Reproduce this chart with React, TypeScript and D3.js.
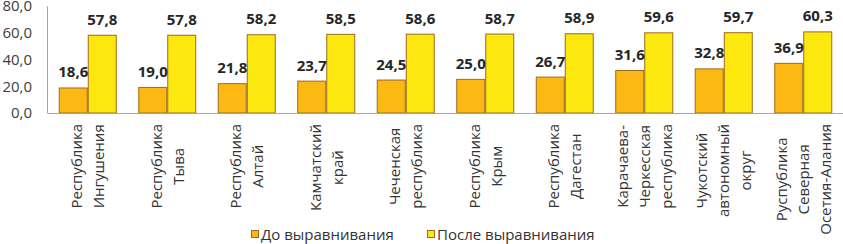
import React, { useEffect, useRef } from "react";
import * as d3 from "d3";

const categories: string[][] = [
  ["Республика", "Ингушения"],
  ["Республика", "Тыва"],
  ["Республика", "Алтай"],
  ["Камчатский", "край"],
  ["Чеченская", "республика"],
  ["Республика", "Крым"],
  ["Республика", "Дагестан"],
  ["Карачаева-", "Черкесская", "республика"],
  ["Чукотский", "автономный", "округ"],
  ["Руспублика", "Северная", "Осетия-Алания"],
];
const beforeValues = [18.6, 19.0, 21.8, 23.7, 24.5, 25.0, 26.7, 31.6, 32.8, 36.9];
const afterValues = [57.8, 57.8, 58.2, 58.5, 58.6, 58.7, 58.9, 59.6, 59.7, 60.3];
const yTicks = [0, 20, 40, 60, 80];
const seriesNames = ["До выравнивания", "После выравнивания"];

const W = 843;
const H = 244;
const FONT = "'Open Sans', 'DejaVu Sans', sans-serif";
const fmt = (v: number) => v.toFixed(1).replace(".", ",");

export default function App() {
  const ref = useRef<SVGSVGElement | null>(null);

  useEffect(() => {
    document.body.style.margin = "0";
    const svg = d3.select(ref.current!);
    svg.selectAll("*").remove();

    const x = d3
      .scaleBand<number>()
      .domain(d3.range(categories.length))
      .range([48, 843])
      .padding(0);
    const y = d3.scaleLinear().domain([0, 80]).range([113, 5.4]);
    const barW = 29;
    const colors = ["#FDB913", "#FCE80E"];
    const stroke = "#9C6A1E";
    const series = [beforeValues, afterValues];

    // y axis labels
    svg
      .append("g")
      .selectAll("text")
      .data(yTicks)
      .join("text")
      .attr("x", 32)
      .attr("y", (d) => y(d))
      .attr("dy", "0.36em")
      .attr("text-anchor", "end")
      .attr("font-family", FONT)
      .attr("font-size", 15)
      .attr("fill", "#404040")
      .text((d) => fmt(d));

    // bars
    series.forEach((vals, si) => {
      svg
        .append("g")
        .selectAll("rect")
        .data(vals)
        .join("rect")
        .attr("x", (_, i) => x(i)! + x.bandwidth() / 2 - barW + si * barW + 0.5)
        .attr("y", (d) => y(d))
        .attr("width", barW - 1)
        .attr("height", (d) => y(0) - y(d))
        .attr("fill", colors[si])
        .attr("stroke", stroke)
        .attr("stroke-width", 1);
    });

    // axes lines
    svg
      .append("line")
      .attr("x1", 47.5)
      .attr("x2", 47.5)
      .attr("y1", y(80) + 1)
      .attr("y2", y(0))
      .attr("stroke", "#A6A6A6");
    svg
      .append("line")
      .attr("x1", 47.5)
      .attr("x2", 843)
      .attr("y1", y(0) + 0.5)
      .attr("y2", y(0) + 0.5)
      .attr("stroke", "#A6A6A6");

    // data labels
    series.forEach((vals, si) => {
      svg
        .append("g")
        .selectAll("text")
        .data(vals)
        .join("text")
        .attr("x", (_, i) => x(i)! + x.bandwidth() / 2 - barW / 2 + si * barW)
        .attr("y", (d) => y(d) - 10.5)
        .attr("text-anchor", "middle")
        .attr("font-family", FONT)
        .attr("font-weight", "bold")
        .attr("font-size", 15)
        .attr("fill", "#262626")
        .text((d) => fmt(d));
    });

    // category labels
    const lineGap = 22;
    categories.forEach((lines, i) => {
      const cx = x(i)! + x.bandwidth() / 2;
      const g = svg.append("g");
      const texts = g
        .selectAll("text")
        .data(lines)
        .join("text")
        .attr("text-anchor", "middle")
        .attr("font-family", FONT)
        .attr("font-size", 15)
        .attr("fill", "#333333")
        .attr("x", 0)
        .attr("y", (_, li) => (li - (lines.length - 1) / 2) * lineGap)
        .attr("dy", "0.36em")
        .text((d) => d);
      let maxLen = 0;
      texts.each(function () {
        maxLen = Math.max(maxLen, (this as SVGTextElement).getComputedTextLength());
      });
      g.attr("transform", `translate(${cx},${124 + maxLen / 2}) rotate(-90)`);
    });

    // legend
    const legendItems = [
      { x: 251, name: seriesNames[0], color: colors[0] },
      { x: 427, name: seriesNames[1], color: colors[1] },
    ];
    const lg = svg.append("g");
    legendItems.forEach((it) => {
      lg.append("rect")
        .attr("x", it.x + 0.5)
        .attr("y", 230.5)
        .attr("width", 7)
        .attr("height", 7)
        .attr("fill", it.color)
        .attr("stroke", stroke);
      lg.append("text")
        .attr("x", it.x + 10)
        .attr("y", 240)
        .attr("font-family", FONT)
        .attr("font-size", 15)
        .attr("fill", "#333333")
        .text(it.name);
    });
  }, []);

  return (
    <svg
      ref={ref}
      width={W}
      height={H}
      style={{ display: "block", background: "#fff" }}
    />
  );
}
